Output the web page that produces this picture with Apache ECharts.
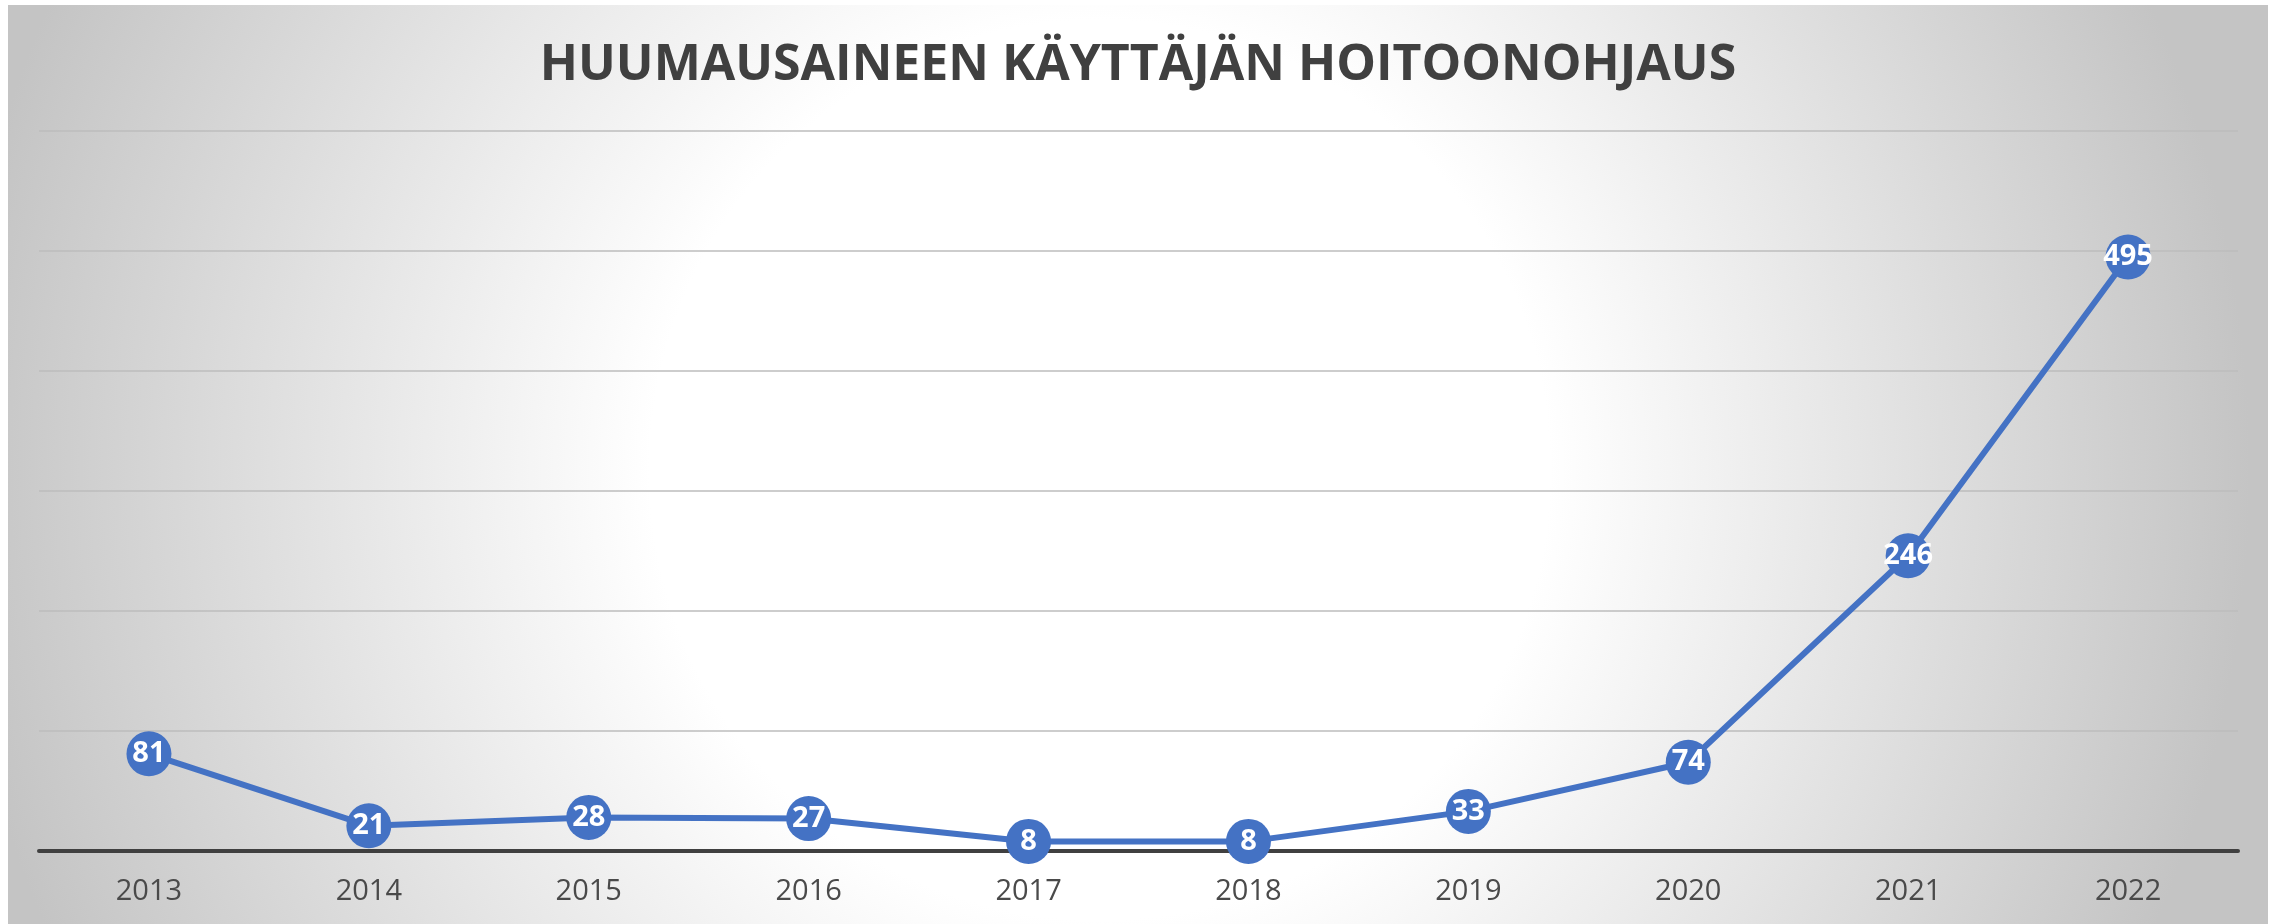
<!DOCTYPE html>
<html>
<head>
<meta charset="utf-8">
<script src="https://cdn.jsdelivr.net/npm/echarts@6/dist/echarts.min.js"></script>
<style>
html, body { margin: 0; padding: 0; background: #ffffff; }
#chart {
  position: absolute; left: 8px; top: 5px; width: 2260px; height: 919px;
  background: radial-gradient(circle at 1092px 465px, #ffffff 0px, #ffffff 450px, #c4c4c4 1150px);
}
</style>
</head>
<body>
<div id="chart"></div>
<script>
var years = ['2013', '2014', '2015', '2016', '2017', '2018', '2019', '2020', '2021', '2022'];
var counts = [81, 21, 28, 27, 8, 8, 33, 74, 246, 495];
var yMax = 600;
var yStep = 100;

var chart = echarts.init(document.getElementById('chart'));
var option = {
  backgroundColor: 'transparent',
  title: {
    text: 'HUUMAUSAINEEN KÄYTTÄJÄN HOITOONOHJAUS',
    left: 'center',
    top: 31,
    textStyle: {
      fontFamily: 'Open Sans',
      fontWeight: 'bold',
      fontSize: 50,
      color: '#404040'
    }
  },
  grid: { left: 31, right: 30, top: 126, bottom: 73 },
  xAxis: {
    type: 'category',
    data: years,
    boundaryGap: true,
    axisLine: { lineStyle: { color: '#404040', width: 4 } },
    axisTick: { show: false },
    axisLabel: {
      margin: 26,
      fontFamily: 'Open Sans',
      fontSize: 29,
      color: '#4a4a4a'
    }
  },
  yAxis: {
    type: 'value',
    min: 0,
    max: yMax,
    interval: yStep,
    axisLine: { show: false },
    axisTick: { show: false },
    axisLabel: { show: false },
    splitLine: { lineStyle: { color: '#bcbcbc', width: 1.5 } }
  },
  series: [{
    type: 'line',
    data: counts,
    symbol: 'circle',
    symbolSize: 45,
    lineStyle: { color: '#4472C4', width: 6 },
    itemStyle: { color: '#4472C4' },
    label: {
      show: true,
      position: 'inside',
      fontFamily: 'Open Sans',
      fontWeight: 'bold',
      fontSize: 29,
      color: '#ffffff'
    },
    animation: false
  }]
};
chart.setOption(option);
window.addEventListener('resize', function () {
  chart.resize();
});
</script>
</body>
</html>
